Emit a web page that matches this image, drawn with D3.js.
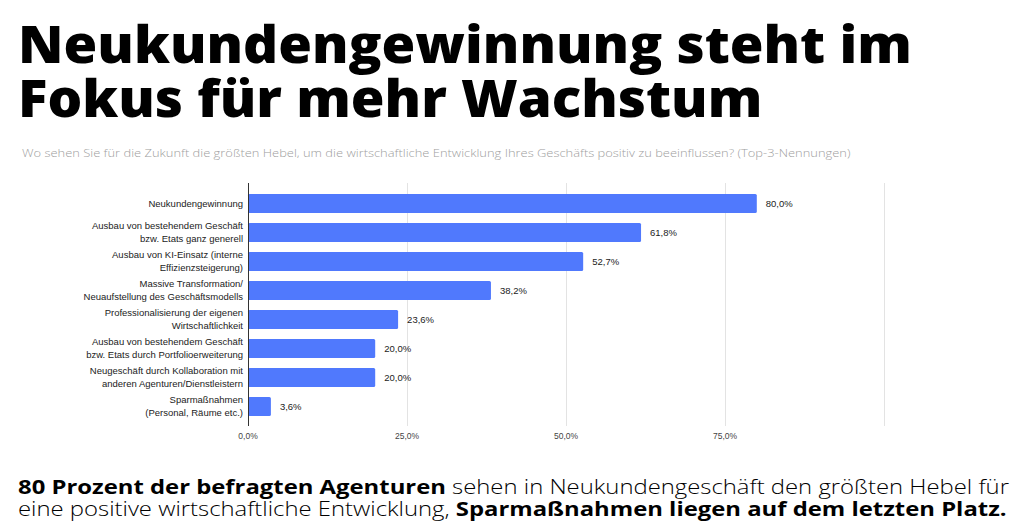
<!DOCTYPE html>
<html lang="de">
<head>
<meta charset="utf-8">
<title>Neukundengewinnung</title>
<script src="https://cdn.jsdelivr.net/npm/d3@7"></script>
<style>
  html, body { margin: 0; padding: 0; background: #fff; }
  svg { display: block; }
</style>
</head>
<body>
<script>
// chart data
let categories = [
  ["Neukundengewinnung"],
  ["Ausbau von bestehendem Geschäft", "bzw. Etats ganz generell"],
  ["Ausbau von KI-Einsatz (interne", "Effizienzsteigerung)"],
  ["Massive Transformation/", "Neuaufstellung des Geschäftsmodells"],
  ["Professionalisierung der eigenen", "Wirtschaftlichkeit"],
  ["Ausbau von bestehendem Geschäft", "bzw. Etats durch Portfolioerweiterung"],
  ["Neugeschäft durch Kollaboration mit", "anderen Agenturen/Dienstleistern"],
  ["Sparmaßnahmen", "(Personal, Räume etc.)"]
];
let values = [80.0, 61.8, 52.7, 38.2, 23.6, 20.0, 20.0, 3.6];
let ticks = [0, 25, 50, 75, 100];
let tickLabels = ["0,0%", "25,0%", "50,0%", "75,0%", ""];

let titleLines = ["Neukundengewinnung steht im", "Fokus für mehr Wachstum"];
let subtitle = "Wo sehen Sie für die Zukunft die größten Hebel, um die wirtschaftliche Entwicklung Ihres Geschäfts positiv zu beeinflussen? (Top-3-Nennungen)";
let footLines = [
  [["80 Prozent der befragten Agenturen", true], [" sehen in Neukundengeschäft den größten Hebel für", false]],
  [["eine positive wirtschaftliche Entwicklung, ", false], ["Sparmaßnahmen liegen auf dem letzten Platz.", true]]
];

let w = 1024, h = 532;
let fmt = v => v.toFixed(1).replace(".", ",") + "%";

let svg = d3.select("body").append("svg")
  .attr("width", w)
  .attr("height", h);

// stretch a text block horizontally to the width it has in the picture
function fitWidth(sel, x, y, target) {
  let bw = sel.node().getBBox().width;
  sel.attr("transform", "translate(" + x + "," + y + ") scale(" + (target / bw) + ",1)");
}

// title, one block with two lines
let title = svg.append("text")
  .attr("font-family", "'Open Sans', sans-serif")
  .attr("font-weight", 800)
  .attr("font-size", 52)
  .attr("fill", "#000");
titleLines.forEach(function(t, i) {
  title.append("tspan").attr("x", 0).attr("y", i * 54).text(t);
});
fitWidth(title, 18, 63, 894);

let sub = svg.append("text")
  .attr("font-family", "'Open Sans', sans-serif")
  .attr("font-weight", 300)
  .attr("font-size", 11.5)
  .attr("fill", "#a0a0a0")
  .text(subtitle);
fitWidth(sub, 22, 157, 829);

// bar chart
let xScale = d3.scaleLinear().domain([0, 100]).range([248, 884]);
let yScale = d3.scaleBand()
  .domain(d3.range(values.length))
  .range([189, 421])
  .paddingInner(0.345)
  .paddingOuter(0.1725);

let g = svg.append("g");

g.selectAll("line.grid")
  .data(ticks.slice(1))
  .enter()
  .append("line")
  .attr("x1", d => xScale(d) + 0.5)
  .attr("x2", d => xScale(d) + 0.5)
  .attr("y1", 183)
  .attr("y2", 426)
  .attr("stroke", "#e3e3e3")
  .attr("stroke-width", 1);

g.selectAll("rect")
  .data(values)
  .enter()
  .append("rect")
  .attr("x", xScale(0))
  .attr("y", (d, i) => yScale(i))
  .attr("width", d => xScale(d) - xScale(0))
  .attr("height", yScale.bandwidth())
  .attr("rx", 1.5)
  .attr("fill", "#5079fd");

g.append("line")
  .attr("x1", xScale(0) + 0.5)
  .attr("x2", xScale(0) + 0.5)
  .attr("y1", 183)
  .attr("y2", 426)
  .attr("stroke", "#333")
  .attr("stroke-width", 1);

g.selectAll("text.val")
  .data(values)
  .enter()
  .append("text")
  .attr("class", "val")
  .attr("x", d => xScale(d) + 9)
  .attr("y", (d, i) => yScale(i) + yScale.bandwidth() / 2)
  .attr("dy", "0.35em")
  .attr("font-family", "'Liberation Sans', Arial, sans-serif")
  .attr("font-size", 9.5)
  .attr("fill", "#222")
  .text(fmt);

categories.forEach(function(lines, i) {
  let cy = yScale(i) + yScale.bandwidth() / 2;
  let t = g.append("text")
    .attr("text-anchor", "end")
    .attr("font-family", "'Liberation Sans', Arial, sans-serif")
    .attr("font-size", 9.5)
    .attr("fill", "#222");
  lines.forEach(function(l, j) {
    t.append("tspan")
      .attr("x", 243)
      .attr("y", cy + (j - (lines.length - 1) / 2) * 13)
      .attr("dy", "0.35em")
      .text(l);
  });
});

g.selectAll("text.tick")
  .data(ticks)
  .enter()
  .append("text")
  .attr("x", d => xScale(d))
  .attr("y", 436)
  .attr("dy", "0.35em")
  .attr("text-anchor", "middle")
  .attr("font-family", "'Liberation Sans', Arial, sans-serif")
  .attr("font-size", 8.5)
  .attr("fill", "#444")
  .text((d, i) => tickLabels[i]);

// footnote, one block with two lines of mixed weight
let foot = svg.append("text")
  .attr("font-family", "'Open Sans', sans-serif")
  .attr("font-size", 20)
  .attr("fill", "#000");
footLines.forEach(function(parts, i) {
  parts.forEach(function(p, k) {
    let ts = foot.append("tspan")
      .attr("font-weight", p[1] ? 700 : 300)
      .text(p[0]);
    if (k === 0) ts.attr("x", 0).attr("y", i * 22);
  });
});
fitWidth(foot, 18, 494, 992);
</script>
</body>
</html>
